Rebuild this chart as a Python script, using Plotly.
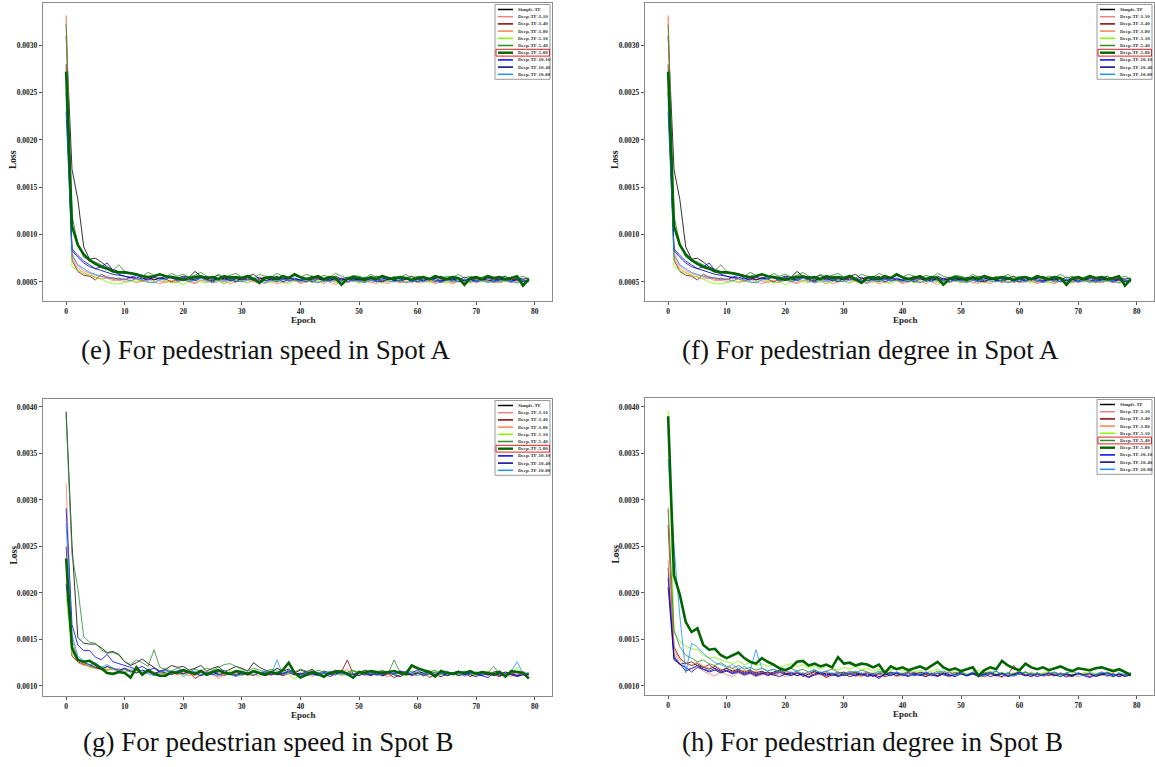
import plotly.graph_objects as go

W, H = 1155, 767
EPOCHS = list(range(80))
MODEL_NAMES = ["Simple-TF", "Deep-TF-3-10", "Deep-TF-3-40", "Deep-TF-3-80", "Deep-TF-5-10",
               "Deep-TF-5-40", "Deep-TF-5-80", "Deep-TF-10-10", "Deep-TF-10-40", "Deep-TF-10-80"]
MODEL_COLORS = ["#000000", "#f08080", "#8b0000", "#ff7f50", "#7cfc00",
                "#2e8b2e", "#006400", "#0000ff", "#00008b", "#1e90ff"]
X_TICKS = [0, 10, 20, 30, 40, 50, 60, 70, 80]
Y_TICKS_A = [0.0005, 0.0010, 0.0015, 0.0020, 0.0025, 0.0030]
Y_TICKS_B = [0.0010, 0.0015, 0.0020, 0.0025, 0.0030, 0.0035, 0.0040]
CAPTIONS = ["(e) For pedestrian speed in Spot A", "(f) For pedestrian degree in Spot A",
            "(g) For pedestrian speed in Spot B", "(h) For pedestrian degree in Spot B"]
UNIT = 1e-4  # all loss values below are listed in units of 1e-4

# ---- Spot A (panels e and f show the same curves) ----
a_simple = [31.0, 16.9, 13.7, 8.7, 7.4, 7.5, 7.1, 6.6, 6.3, 6.1, 5.9, 6.0, 5.8, 5.7, 5.5, 5.6, 5.8, 5.5, 5.6, 5.4,
            5.6, 5.5, 6.1, 5.6, 5.4, 5.5, 5.7, 5.3, 5.6, 5.5, 5.4, 5.6, 5.8, 5.3, 5.5, 5.4, 5.6, 5.2, 5.5, 5.7,
            5.4, 5.3, 5.6, 5.5, 5.2, 5.4, 5.6, 5.3, 5.5, 5.4, 5.2, 5.5, 5.3, 5.6, 5.4, 5.2, 5.5, 5.3, 5.4, 5.6,
            5.3, 5.5, 5.2, 5.4, 5.6, 5.3, 5.4, 5.2, 5.5, 5.3, 5.4, 5.2, 5.5, 5.3, 5.4, 5.6, 5.2, 5.4, 5.3, 5.4]
a_3_10 = [33.0, 7.6, 6.4, 6.0, 5.7, 5.5, 5.3, 5.4, 5.1, 5.2, 5.0, 5.2, 4.9, 5.1, 5.3, 5.0, 4.8, 5.1, 5.0, 4.9,
          5.2, 5.0, 4.8, 5.1, 5.3, 4.9, 5.0, 5.2, 4.8, 5.0, 5.1, 4.9, 5.2, 5.0, 4.8, 5.1, 5.3, 4.9, 5.0, 5.2,
          4.8, 5.0, 5.1, 4.9, 5.2, 5.0, 4.7, 5.1, 5.0, 5.2, 4.9, 5.1, 5.0, 4.8, 5.2, 5.0, 5.1, 4.9, 5.0, 5.2,
          4.9, 5.0, 5.1, 4.8, 5.0, 5.2, 4.9, 5.1, 5.0, 4.9, 5.1, 5.0, 5.2, 4.9, 5.0, 5.1, 4.9, 5.0, 5.1, 5.0]
a_3_40 = [28.0, 7.3, 6.1, 5.7, 5.6, 5.2, 5.8, 5.5, 5.3, 5.4, 5.2, 5.5, 5.3, 5.1, 5.4, 5.2, 5.5, 5.3, 5.0, 5.3,
          5.4, 5.1, 5.3, 5.5, 5.2, 5.0, 5.3, 5.4, 5.1, 5.3, 5.2, 5.4, 5.1, 5.3, 5.5, 5.2, 5.0, 5.3, 5.4, 5.2,
          5.1, 5.3, 5.2, 5.4, 5.0, 5.3, 5.2, 5.1, 5.4, 5.2, 5.3, 5.0, 5.2, 5.4, 5.1, 5.3, 5.2, 5.0, 5.3, 5.2,
          5.4, 5.1, 5.3, 5.0, 5.2, 5.3, 5.1, 5.4, 5.2, 5.1, 5.3, 5.2, 5.0, 5.3, 5.2, 5.1, 5.3, 5.2, 5.1, 5.2]
a_3_80 = [33.2, 8.1, 6.7, 6.2, 5.9, 5.7, 5.5, 5.6, 5.3, 5.2, 5.4, 5.1, 5.3, 5.0, 5.2, 5.4, 5.1, 4.9, 5.2, 5.0,
          5.3, 5.1, 4.9, 5.2, 5.0, 5.3, 5.1, 4.8, 5.2, 5.0, 5.1, 5.3, 5.0, 4.9, 5.2, 5.1, 4.8, 5.0, 5.2, 5.1,
          4.9, 5.2, 5.0, 5.1, 4.8, 5.2, 5.0, 5.3, 4.9, 5.1, 5.0, 5.2, 4.9, 5.1, 5.0, 4.8, 5.2, 5.0, 5.1, 4.9,
          5.2, 5.0, 5.1, 4.9, 5.2, 5.0, 4.8, 5.1, 5.0, 5.2, 4.9, 5.1, 5.0, 5.2, 4.9, 5.1, 5.0, 4.9, 5.1, 5.0]
a_5_10 = [26.0, 6.6, 6.2, 5.9, 5.7, 5.5, 5.3, 5.0, 4.8, 4.8, 4.9, 5.1, 5.0, 5.2, 4.9, 5.0, 5.3, 5.1, 4.9, 5.0,
          4.7, 5.1, 5.2, 5.0, 4.9, 5.2, 5.1, 4.8, 5.0, 5.2, 5.1, 4.9, 5.3, 5.0, 5.1, 4.9, 5.2, 5.0, 4.8, 5.1,
          5.0, 5.2, 4.9, 5.1, 5.0, 5.2, 4.9, 5.0, 5.3, 5.1, 4.9, 5.0, 5.2, 5.1, 4.9, 5.2, 5.0, 5.1, 4.9, 5.2,
          5.0, 5.1, 4.9, 5.2, 5.0, 4.9, 5.1, 5.3, 5.0, 4.9, 5.2, 5.0, 5.1, 4.9, 5.2, 5.0, 5.1, 4.9, 5.0, 5.1]
a_5_40 = [32.2, 12.0, 9.0, 7.6, 7.3, 7.1, 6.8, 6.5, 6.2, 6.8, 6.1, 5.9, 5.8, 5.6, 6.0, 5.7, 5.8, 5.5, 5.9, 5.6,
          5.8, 5.5, 5.7, 6.0, 5.6, 5.4, 5.8, 5.5, 5.7, 5.9, 5.5, 5.7, 5.4, 5.8, 5.6, 5.5, 5.9, 5.6, 5.4, 5.7,
          5.5, 5.8, 5.6, 5.4, 5.7, 5.5, 5.9, 5.6, 5.4, 5.7, 5.6, 5.4, 5.8, 5.5, 5.7, 5.3, 5.6, 5.5, 5.8, 5.4,
          5.6, 5.5, 5.3, 5.7, 5.4, 5.6, 5.5, 5.8, 5.4, 5.6, 5.3, 5.5, 5.7, 5.4, 5.6, 5.3, 5.5, 5.4, 5.6, 5.3]
a_5_80 = [27.2, 10.9, 8.9, 7.9, 7.3, 6.9, 6.6, 6.4, 6.1, 6.0, 6.0, 5.9, 5.8, 5.6, 5.5, 5.6, 5.8, 5.6, 5.5, 5.4,
          5.2, 5.4, 5.5, 5.6, 5.4, 5.5, 5.3, 5.6, 5.4, 5.5, 5.4, 5.6, 5.3, 4.9, 5.4, 5.5, 5.3, 5.6, 5.4, 5.8,
          5.5, 5.3, 5.4, 5.6, 5.3, 5.5, 5.4, 4.7, 5.3, 5.5, 5.4, 5.2, 5.5, 5.3, 5.6, 5.4, 5.3, 5.5, 5.4, 5.2,
          5.4, 5.5, 5.3, 5.6, 5.4, 5.3, 5.5, 5.4, 4.7, 5.4, 5.5, 5.3, 5.6, 5.4, 5.5, 5.3, 5.4, 5.6, 4.6, 5.3]
a_10_10 = [23.0, 8.5, 7.8, 7.2, 6.8, 6.4, 6.6, 7.0, 6.2, 5.8, 5.6, 5.5, 5.7, 5.4, 5.2, 5.5, 5.3, 5.6, 5.4, 5.2,
           5.5, 5.3, 5.1, 5.4, 5.6, 5.2, 5.3, 5.5, 5.1, 5.4, 5.2, 5.5, 5.3, 5.1, 5.4, 5.2, 5.5, 5.0, 5.3, 5.4,
           5.2, 5.0, 5.3, 5.5, 5.1, 5.3, 5.2, 5.4, 5.0, 5.3, 5.1, 5.4, 5.2, 5.0, 5.3, 5.5, 5.1, 5.2, 5.4, 5.0,
           5.3, 5.1, 5.4, 5.2, 5.0, 5.3, 5.2, 5.4, 5.1, 5.3, 5.0, 5.2, 5.4, 5.1, 5.3, 5.2, 5.0, 5.3, 5.2, 5.1]
a_10_40 = [25.0, 8.3, 7.6, 7.0, 6.6, 6.4, 6.2, 6.0, 5.8, 5.7, 5.6, 5.4, 5.5, 5.3, 5.5, 5.2, 5.4, 5.3, 5.5, 5.1,
           5.3, 5.4, 5.2, 5.5, 5.3, 5.1, 5.4, 5.2, 5.3, 5.0, 5.4, 5.2, 5.3, 5.5, 5.1, 5.3, 5.2, 5.4, 5.1, 5.3,
           5.2, 5.4, 5.0, 5.3, 5.2, 5.1, 5.4, 5.2, 5.3, 5.1, 5.3, 5.2, 5.4, 5.1, 5.0, 5.3, 5.2, 5.1, 5.3, 5.2,
           5.0, 5.3, 5.2, 5.4, 5.1, 5.2, 5.3, 5.0, 5.2, 5.3, 5.1, 5.3, 5.2, 5.0, 5.2, 5.3, 5.1, 5.2, 5.0, 5.2]
a_10_80 = [24.0, 7.8, 6.8, 6.4, 6.0, 5.8, 5.6, 5.4, 5.5, 5.2, 5.3, 5.1, 5.4, 5.2, 5.0, 4.9, 5.2, 5.3, 5.6, 5.1,
           5.3, 5.0, 5.2, 5.4, 5.1, 4.9, 5.2, 5.0, 5.3, 5.1, 5.0, 5.2, 5.4, 5.1, 4.9, 5.2, 5.0, 5.3, 5.1, 5.2,
           5.0, 5.3, 5.1, 4.9, 5.2, 5.0, 5.3, 5.1, 5.0, 5.2, 5.1, 4.9, 5.2, 5.0, 5.3, 5.1, 5.0, 5.2, 4.9, 5.1,
           5.2, 5.0, 5.3, 5.1, 4.9, 5.2, 5.0, 5.1, 5.3, 5.0, 5.1, 5.2, 4.9, 5.1, 5.0, 5.2, 5.1, 4.9, 5.2, 5.1]

# ---- Spot B, pedestrian speed (g) ----
g_simple = [39.5, 25.2, 15.2, 14.6, 14.5, 14.5, 14.1, 13.6, 13.7, 13.4, 12.6, 12.2, 12.5, 12.9, 12.4, 12.0, 11.6, 11.8, 12.2, 12.0,
            12.1, 11.7, 11.9, 12.2, 11.6, 11.9, 12.1, 11.5, 11.8, 12.1, 11.9, 11.6, 12.5, 12.0, 11.7, 11.5, 11.9, 11.6, 11.8, 11.4,
            11.7, 11.5, 11.8, 11.3, 11.6, 11.4, 11.7, 11.5, 11.3, 11.6, 11.4, 11.7, 11.5, 11.2, 11.6, 11.4, 11.3, 11.6, 11.5, 11.2,
            11.5, 11.3, 11.6, 11.4, 11.2, 11.5, 11.4, 11.6, 11.3, 11.5, 11.2, 11.4, 11.3, 11.5, 11.6, 11.2, 11.4, 11.5, 11.3, 11.2]
g_3_10 = [31.8, 15.0, 12.8, 12.4, 12.2, 12.0, 11.8, 12.1, 11.7, 11.9, 11.5, 11.8, 11.6, 11.4, 11.7, 11.5, 11.3, 11.6, 11.4, 11.2,
          11.5, 11.3, 11.1, 11.4, 11.6, 11.2, 11.0, 11.3, 11.5, 11.2, 11.4, 11.1, 11.3, 11.0, 11.4, 11.2, 11.5, 11.1, 11.3, 11.6,
          11.2, 11.4, 11.0, 11.3, 11.5, 11.2, 11.4, 11.1, 11.3, 11.2, 11.4, 11.1, 11.3, 11.5, 11.2, 11.0, 11.3, 11.4, 11.1, 11.3,
          11.5, 11.2, 11.4, 11.1, 11.3, 11.6, 11.2, 11.4, 11.0, 11.3, 11.2, 11.4, 11.1, 11.3, 11.5, 11.2, 11.0, 11.3, 11.6, 11.2]
g_3_40 = [25.0, 13.2, 12.6, 12.3, 12.1, 11.9, 12.0, 11.7, 11.9, 11.6, 11.8, 11.5, 11.7, 11.4, 11.6, 11.3, 11.5, 11.2, 11.4, 11.6,
          11.3, 11.5, 10.8, 11.2, 11.4, 11.6, 11.3, 11.1, 11.4, 11.2, 11.5, 11.3, 11.1, 11.4, 11.2, 11.5, 11.3, 11.1, 11.4, 11.2,
          11.3, 11.5, 11.2, 11.4, 11.1, 11.3, 11.2, 11.5, 12.8, 11.3, 11.4, 11.2, 11.3, 11.5, 11.1, 11.3, 10.9, 11.2, 11.4, 11.1,
          11.3, 11.5, 10.9, 11.2, 11.4, 11.1, 11.3, 11.2, 11.4, 11.0, 11.3, 11.1, 11.4, 11.2, 11.0, 11.3, 11.4, 11.1, 11.2, 11.3]
g_3_80 = [22.0, 13.8, 12.5, 12.2, 12.3, 11.9, 11.7, 12.0, 11.8, 11.5, 11.9, 11.6, 11.4, 11.7, 11.5, 11.2, 11.6, 11.3, 11.5, 11.2,
          11.4, 11.1, 11.3, 11.6, 11.2, 11.4, 10.8, 11.2, 11.5, 11.3, 11.1, 11.4, 11.2, 11.5, 11.3, 11.1, 11.4, 11.2, 11.3, 11.5,
          11.2, 11.4, 11.6, 11.3, 11.1, 11.4, 11.2, 11.5, 11.8, 11.3, 11.2, 11.4, 11.1, 11.3, 11.5, 11.2, 11.4, 11.6, 11.2, 11.3,
          11.5, 11.1, 11.3, 11.4, 11.2, 11.6, 11.3, 11.1, 11.4, 11.2, 11.3, 11.5, 11.2, 11.4, 11.1, 11.3, 11.5, 11.2, 11.4, 11.3]
g_5_10 = [19.8, 13.5, 12.8, 12.5, 12.0, 11.9, 12.1, 11.7, 11.9, 11.6, 11.4, 11.7, 11.5, 11.3, 11.6, 11.2, 11.5, 11.3, 11.6, 11.4,
          11.2, 11.5, 11.3, 11.6, 11.1, 11.4, 11.2, 11.5, 11.7, 11.3, 11.1, 11.4, 11.2, 11.5, 11.3, 11.6, 11.2, 11.4, 11.3, 10.7,
          11.3, 11.5, 11.2, 11.4, 11.1, 11.5, 11.3, 11.2, 11.4, 11.6, 11.3, 11.5, 11.2, 11.4, 11.3, 11.5, 11.2, 11.4, 11.1, 11.3,
          11.5, 11.2, 11.4, 11.6, 11.3, 11.1, 11.4, 11.2, 11.5, 11.3, 11.2, 11.4, 11.6, 11.3, 11.5, 11.2, 11.4, 12.0, 11.3, 11.5]
g_5_40 = [39.1, 24.1, 20.5, 15.3, 14.7, 14.6, 13.9, 13.5, 13.6, 13.3, 12.6, 12.3, 12.8, 12.5, 12.1, 13.9, 12.0, 11.8, 11.6, 11.9,
          11.7, 11.5, 11.8, 11.6, 11.9, 11.7, 12.0, 12.3, 12.4, 12.1, 11.8, 11.6, 11.9, 11.7, 11.5, 11.8, 11.6, 11.4, 11.7, 11.5,
          11.8, 11.6, 11.3, 11.7, 11.5, 11.4, 11.6, 11.3, 11.5, 11.7, 11.4, 11.6, 11.3, 11.5, 11.7, 11.4, 12.8, 11.5, 11.3, 11.6,
          11.4, 11.2, 11.5, 11.7, 11.3, 11.5, 11.2, 11.4, 11.6, 11.3, 11.5, 11.2, 11.4, 12.1, 11.3, 11.5, 11.2, 11.6, 11.4, 11.3]
g_5_80 = [23.7, 14.1, 12.8, 12.6, 12.7, 12.3, 11.9, 11.4, 11.3, 11.5, 11.4, 10.9, 12.0, 11.2, 11.7, 11.3, 11.1, 11.1, 11.5, 11.4,
          11.7, 11.5, 11.3, 11.6, 11.2, 11.5, 11.7, 11.4, 11.3, 11.6, 11.5, 11.3, 11.6, 11.4, 11.2, 11.5, 11.3, 11.7, 12.5, 11.4,
          10.9, 11.2, 11.5, 11.3, 11.0, 11.4, 11.5, 11.6, 11.3, 10.9, 11.5, 11.4, 11.6, 11.5, 11.4, 11.5, 11.6, 11.4, 11.3, 12.2,
          11.9, 11.7, 11.5, 11.0, 11.6, 11.4, 11.3, 11.5, 11.4, 11.6, 11.3, 11.5, 11.4, 11.2, 11.5, 11.0, 11.6, 11.5, 11.4, 10.8]
g_10_10 = [29.1, 16.6, 14.4, 13.8, 13.8, 13.1, 12.8, 13.4, 12.6, 12.4, 12.2, 12.0, 11.8, 12.1, 11.7, 11.9, 11.5, 11.7, 11.4, 11.6,
           11.8, 11.5, 11.3, 11.6, 11.4, 11.2, 11.5, 11.7, 11.3, 11.5, 11.2, 11.4, 11.6, 11.3, 11.5, 11.2, 11.4, 11.3, 11.6, 11.4,
           11.2, 11.5, 11.3, 11.1, 11.4, 11.2, 11.5, 11.3, 11.4, 11.2, 11.5, 11.3, 11.1, 11.4, 11.2, 11.5, 11.3, 11.6, 11.2, 11.4,
           11.7, 11.3, 11.5, 11.2, 11.4, 11.1, 11.3, 11.6, 11.2, 11.4, 11.3, 11.1, 10.9, 11.4, 11.2, 11.5, 11.3, 11.1, 11.4, 11.2]
g_10_40 = [21.0, 14.0, 12.9, 12.5, 12.3, 12.0, 11.8, 12.1, 11.9, 11.7, 11.9, 11.6, 11.4, 11.7, 11.5, 11.3, 11.6, 11.4, 11.2, 11.5,
           11.3, 11.6, 11.4, 11.1, 11.3, 11.5, 11.2, 11.4, 11.3, 11.1, 11.4, 11.2, 11.5, 11.3, 11.1, 11.4, 11.2, 11.3, 11.5, 11.2,
           11.4, 11.1, 11.3, 11.2, 11.4, 11.0, 11.3, 11.5, 11.2, 11.3, 11.1, 11.4, 11.2, 11.3, 11.1, 11.4, 11.2, 11.0, 11.3, 11.2,
           11.4, 11.1, 11.3, 11.2, 11.0, 11.3, 11.4, 11.1, 11.3, 11.2, 11.0, 11.3, 11.2, 11.4, 11.1, 11.3, 11.2, 11.0, 11.2, 11.3]
g_10_80 = [27.5, 15.5, 13.2, 12.7, 12.2, 12.5, 12.0, 12.3, 11.9, 11.6, 11.8, 11.5, 11.9, 11.6, 11.3, 11.1, 11.5, 11.7, 11.4, 11.6,
           11.0, 11.4, 11.6, 11.2, 11.5, 11.3, 11.1, 11.4, 11.2, 11.0, 11.3, 11.5, 11.2, 11.4, 11.6, 11.3, 12.8, 11.2, 11.5, 11.3,
           11.1, 11.4, 11.2, 11.5, 11.3, 11.6, 11.2, 11.4, 11.1, 11.3, 11.5, 11.2, 11.4, 11.1, 11.3, 11.5, 11.2, 11.4, 11.6, 11.3,
           11.1, 11.4, 11.2, 11.5, 11.3, 11.6, 11.2, 11.4, 11.1, 11.3, 11.5, 11.2, 11.4, 11.3, 11.5, 11.1, 11.6, 12.6, 11.3, 11.4]

# ---- Spot B, pedestrian degree (h) ----
h_simple = [22.7, 13.0, 12.3, 12.5, 12.2, 12.4, 12.0, 11.8, 12.1, 11.7, 11.9, 11.6, 11.8, 11.5, 11.7, 11.4, 11.6, 11.3, 11.5, 11.7,
            11.4, 11.2, 11.5, 11.0, 11.3, 11.6, 11.2, 11.4, 11.1, 11.3, 11.5, 11.2, 11.4, 11.1, 11.3, 11.0, 11.4, 11.2, 11.5, 11.3,
            11.1, 11.4, 11.2, 11.5, 11.3, 11.1, 11.4, 11.2, 11.0, 11.3, 11.5, 11.2, 11.4, 11.1, 11.3, 11.5, 11.2, 11.0, 11.4, 11.2,
            11.3, 11.5, 11.1, 11.4, 11.2, 11.3, 11.1, 11.4, 11.2, 11.0, 11.3, 11.2, 11.4, 11.1, 11.3, 11.2, 11.0, 11.3, 11.2, 11.4]
h_3_10 = [23.5, 13.6, 12.4, 12.0, 11.8, 12.1, 11.6, 11.3, 11.1, 11.5, 11.2, 11.0, 11.4, 11.1, 11.3, 11.0, 11.2, 11.4, 11.1, 11.3,
          11.0, 11.2, 11.4, 11.1, 10.9, 11.2, 11.3, 11.0, 11.2, 11.4, 11.1, 11.3, 11.0, 11.2, 11.4, 11.1, 10.9, 11.2, 11.3, 11.0,
          11.2, 11.4, 11.1, 11.3, 11.0, 11.2, 11.1, 11.3, 11.0, 11.2, 11.4, 11.1, 11.3, 11.0, 11.2, 11.3, 11.1, 10.9, 11.2, 11.0,
          11.3, 11.1, 11.2, 11.4, 11.0, 11.2, 11.1, 11.3, 10.9, 11.2, 11.0, 11.2, 11.3, 11.1, 11.2, 11.0, 11.3, 11.1, 11.2, 11.1]
h_3_40 = [27.3, 14.2, 13.0, 12.4, 12.6, 12.2, 12.0, 12.3, 11.8, 11.6, 11.9, 11.5, 11.7, 11.4, 11.6, 11.3, 11.5, 11.2, 11.4, 11.6,
          11.3, 11.5, 11.1, 11.4, 11.2, 11.5, 11.3, 10.9, 11.2, 11.4, 11.1, 11.3, 11.5, 11.2, 11.4, 11.1, 11.3, 11.0, 11.2, 11.4,
          11.2, 11.5, 11.1, 11.3, 11.2, 11.4, 11.1, 11.3, 11.5, 11.2, 11.4, 11.1, 11.3, 11.2, 11.0, 11.3, 11.1, 11.4, 11.2, 12.2,
          11.3, 11.1, 11.4, 11.2, 11.3, 11.1, 11.4, 11.2, 11.3, 11.1, 11.4, 11.2, 11.0, 11.3, 11.2, 11.4, 11.1, 11.3, 11.2, 11.4]
h_3_80 = [29.2, 14.0, 12.8, 12.5, 12.2, 12.6, 12.1, 11.9, 12.2, 11.8, 11.6, 11.9, 11.5, 11.7, 11.4, 11.6, 11.3, 11.5, 11.2, 11.4,
          11.6, 11.3, 11.5, 11.2, 11.4, 11.1, 11.3, 11.5, 11.2, 11.4, 11.3, 11.5, 11.2, 11.0, 11.3, 11.4, 11.2, 11.5, 11.3, 11.1,
          11.4, 11.2, 11.5, 11.3, 11.1, 11.4, 11.2, 11.3, 11.5, 11.2, 11.3, 11.1, 11.4, 11.2, 11.5, 11.3, 11.1, 11.4, 11.2, 11.3,
          11.5, 11.2, 11.4, 11.1, 11.3, 11.5, 11.2, 11.4, 11.1, 11.3, 11.2, 11.4, 11.1, 11.3, 11.5, 11.2, 11.4, 11.1, 11.3, 11.2]
h_5_10 = [39.6, 15.8, 14.8, 14.3, 14.0, 13.9, 13.3, 13.0, 13.1, 12.8, 12.6, 12.4, 12.7, 12.3, 12.5, 12.2, 12.4, 12.1, 12.3, 12.0,
          12.2, 12.4, 12.1, 12.3, 11.9, 12.1, 11.8, 12.2, 11.9, 11.7, 12.0, 11.8, 12.1, 11.7, 11.9, 11.6, 11.8, 11.5, 11.7, 11.9,
          11.6, 11.8, 11.5, 11.7, 11.4, 11.6, 11.8, 11.5, 11.7, 11.4, 11.6, 11.3, 11.5, 11.7, 11.4, 11.6, 11.3, 11.5, 11.2, 11.4,
          11.6, 11.3, 11.5, 11.2, 11.4, 11.6, 11.3, 11.0, 11.4, 11.5, 11.2, 11.4, 11.6, 11.3, 11.5, 11.2, 11.7, 11.4, 11.2, 11.3]
h_5_40 = [29.0, 16.0, 14.2, 13.3, 13.0, 12.6, 12.8, 12.4, 12.2, 12.5, 12.1, 11.9, 12.2, 11.8, 12.0, 11.7, 11.9, 11.6, 11.8, 11.5,
          11.7, 11.9, 11.6, 11.8, 11.5, 11.7, 11.4, 11.6, 11.8, 11.5, 11.3, 11.6, 11.4, 11.7, 11.5, 11.3, 11.6, 11.4, 11.2, 11.5,
          11.3, 11.6, 11.4, 11.2, 11.5, 11.3, 11.6, 11.4, 11.2, 11.5, 11.3, 11.1, 11.4, 11.2, 11.5, 11.3, 11.6, 11.2, 11.4, 11.1,
          11.3, 11.5, 11.2, 11.4, 11.1, 11.3, 11.5, 11.2, 11.4, 11.1, 11.3, 11.2, 11.4, 11.1, 11.3, 11.5, 11.2, 11.0, 11.3, 11.2]
h_5_80 = [39.0, 21.9, 19.8, 16.9, 15.8, 16.2, 14.4, 13.9, 14.0, 13.3, 13.0, 13.3, 13.6, 13.0, 12.6, 12.4, 13.0, 12.6, 12.3, 11.9,
          11.7, 12.0, 12.6, 12.7, 12.2, 12.4, 12.1, 12.3, 12.0, 13.1, 12.4, 12.5, 12.2, 12.4, 12.3, 12.0, 12.3, 11.4, 12.1, 11.8,
          12.0, 11.7, 11.9, 12.1, 11.8, 12.2, 12.6, 12.0, 11.7, 11.9, 11.6, 11.8, 12.0, 11.1, 11.7, 12.0, 11.8, 12.7, 12.2, 11.9,
          11.7, 12.4, 12.0, 11.8, 12.0, 11.7, 11.9, 12.1, 11.8, 11.6, 11.9, 11.8, 11.7, 11.9, 12.0, 11.8, 11.6, 11.8, 11.5, 11.2]
h_10_10 = [21.6, 13.2, 12.3, 12.0, 11.5, 12.0, 11.8, 11.6, 11.9, 11.5, 11.7, 11.4, 11.6, 11.3, 11.5, 11.2, 11.4, 11.1, 11.3, 11.5,
           11.2, 11.4, 11.1, 11.3, 10.9, 11.2, 11.4, 11.1, 11.3, 11.0, 11.2, 11.4, 11.1, 11.3, 11.0, 11.2, 10.8, 11.3, 11.1, 11.4,
           11.2, 11.0, 11.3, 11.1, 11.4, 11.2, 11.0, 11.3, 11.1, 11.2, 11.4, 11.1, 11.3, 11.0, 11.2, 11.4, 11.1, 11.3, 11.0, 11.2,
           11.4, 11.1, 11.3, 11.0, 11.2, 11.4, 11.1, 11.3, 11.0, 11.2, 11.3, 11.1, 10.9, 11.2, 11.4, 11.1, 11.3, 11.0, 11.2, 11.1]
h_10_40 = [20.6, 12.8, 12.4, 11.6, 11.9, 12.2, 11.8, 11.5, 11.7, 11.4, 11.6, 11.3, 11.5, 11.2, 11.4, 11.1, 11.3, 11.5, 11.2, 11.0,
           11.3, 11.1, 11.4, 11.2, 11.0, 11.3, 11.5, 11.2, 11.4, 11.1, 11.3, 11.0, 11.2, 11.4, 11.1, 11.3, 11.0, 11.2, 11.4, 11.1,
           11.3, 11.1, 11.4, 11.2, 11.0, 11.3, 11.1, 11.4, 11.2, 11.0, 11.3, 11.1, 11.4, 11.2, 11.3, 11.0, 11.2, 11.4, 11.1, 11.3,
           11.5, 11.2, 11.0, 11.3, 11.1, 11.4, 11.2, 11.0, 11.3, 11.1, 11.4, 11.2, 11.3, 11.0, 11.2, 11.4, 11.1, 11.3, 11.0, 11.2]
h_10_80 = [34.4, 25.0, 17.5, 11.4, 14.6, 14.2, 13.5, 13.0, 12.5, 12.3, 12.0, 12.3, 11.8, 12.1, 11.7, 13.9, 11.9, 11.6, 11.8, 11.5,
           11.7, 11.4, 11.6, 11.3, 11.5, 11.8, 11.4, 11.6, 11.3, 11.5, 11.2, 11.4, 11.6, 11.3, 11.5, 11.2, 11.4, 11.6, 11.3, 11.5,
           11.2, 11.4, 11.1, 11.3, 11.5, 11.2, 11.4, 11.6, 11.3, 11.1, 11.4, 11.2, 11.5, 11.3, 11.1, 11.4, 11.6, 11.2, 11.4, 11.1,
           11.3, 11.5, 11.2, 11.4, 11.1, 11.3, 11.5, 11.2, 11.4, 11.6, 11.3, 11.1, 11.4, 11.2, 11.5, 11.3, 11.1, 11.4, 11.2, 11.3]

SPOT_A = [a_simple, a_3_10, a_3_40, a_3_80, a_5_10, a_5_40, a_5_80, a_10_10, a_10_40, a_10_80]
SPOT_B_SPEED = [g_simple, g_3_10, g_3_40, g_3_80, g_5_10, g_5_40, g_5_80, g_10_10, g_10_40, g_10_80]
SPOT_B_DEGREE = [h_simple, h_3_10, h_3_40, h_3_80, h_5_10, h_5_40, h_5_80, h_10_10, h_10_40, h_10_80]
THICK = 6  # Deep-TF-5-80 drawn bold

SERIF = "Liberation Serif"

# panel layout (pixel boxes: left, top, right, bottom)
panels = [
    dict(data=SPOT_A, box=(43, 3, 552, 301), yr=(0.000298, 0.003447), yt=Y_TICKS_A,
         cap=(265, 350), hl=6),
    dict(data=SPOT_A, box=(645, 3, 1154, 301), yr=(0.000298, 0.003447), yt=Y_TICKS_A,
         cap=(870, 350), hl=6),
    dict(data=SPOT_B_SPEED, box=(43, 399, 552, 696), yr=(0.000892, 0.004085), yt=Y_TICKS_B,
         cap=(268, 742), hl=6),
    dict(data=SPOT_B_DEGREE, box=(645, 398, 1154, 695), yr=(0.000903, 0.004096), yt=Y_TICKS_B,
         cap=(872, 742), hl=5),
]


def px(x):
    return x / W


def py(y):
    return 1 - y / H


fig = go.Figure()
shapes, annotations = [], []
layout_axes = {}

for p_i, p in enumerate(panels):
    k = "" if p_i == 0 else str(p_i + 1)
    xa, ya = "x" + k, "y" + k
    l, t, r, b = p["box"]
    order = [i for i in range(10) if i != THICK] + [THICK]
    for i in order:
        fig.add_trace(go.Scatter(
            x=EPOCHS, y=[v * UNIT for v in p["data"][i]], mode="lines",
            name=MODEL_NAMES[i], showlegend=False, xaxis=xa, yaxis=ya,
            line=dict(color=MODEL_COLORS[i], width=2.6 if i == THICK else 1.0),
            opacity=1.0 if i == THICK else 0.8,
        ))
    axis_common = dict(showline=True, mirror=True, linecolor="#8a8a8a", linewidth=1.4,
                       ticks="outside", ticklen=3, tickwidth=1, tickcolor="#555",
                       showgrid=False, zeroline=False,
                       tickfont=dict(family=SERIF, size=7.5, color="#222", weight="bold"))
    layout_axes["xaxis" + k] = dict(axis_common, domain=[px(l), px(r)], range=[-3.95, 82.95],
                                    tickvals=X_TICKS, anchor=ya)
    layout_axes["yaxis" + k] = dict(axis_common, domain=[py(b), py(t)], range=list(p["yr"]),
                                    tickvals=p["yt"], tickformat=".4f", anchor=xa)
    # axis titles
    annotations.append(dict(text="<b>Epoch</b>", x=px(l + 0.5 * (r - l) + 6), y=py(b + 18.5),
                            xref="paper", yref="paper", showarrow=False, xanchor="center",
                            yanchor="middle", font=dict(family=SERIF, size=9, color="#222")))
    annotations.append(dict(text="<b>Loss</b>", x=px(l - 30), y=py((t + b) / 2 + 8), xref="paper",
                            yref="paper", showarrow=False, textangle=-90, xanchor="center",
                            yanchor="middle", font=dict(family=SERIF, size=9.5, color="#222")))
    # caption
    cx, cy = p["cap"]
    annotations.append(dict(text=CAPTIONS[p_i], x=px(cx), y=py(cy), xref="paper", yref="paper",
                            showarrow=False, xanchor="center", yanchor="middle",
                            font=dict(family=SERIF, size=27, color="#111")))
    # manual compact legend (upper right, matplotlib style)
    lx0, lx1 = r - 57, r - 2
    ly0 = t + 1.5
    step = 7.2
    ly1 = ly0 + 5 + step * 9 + 5
    shapes.append(dict(type="rect", xref="paper", yref="paper", x0=px(lx0), x1=px(lx1),
                       y0=py(ly1), y1=py(ly0), line=dict(color="#9a9a9a", width=1),
                       fillcolor="rgba(255,255,255,0.85)", layer="above"))
    for i in range(10):
        ey = ly0 + 5 + step * i
        shapes.append(dict(type="line", xref="paper", yref="paper", x0=px(lx0 + 3), x1=px(lx0 + 18),
                           y0=py(ey), y1=py(ey), layer="above",
                           line=dict(color=MODEL_COLORS[i], width=2.4 if i == THICK else 1.5)))
        annotations.append(dict(text=MODEL_NAMES[i], x=px(lx0 + 21), y=py(ey), xref="paper",
                                yref="paper", showarrow=False, xanchor="left", yanchor="middle",
                                font=dict(family=SERIF, size=5, color="#333", weight="bold")))
    hy = ly0 + 5 + step * p["hl"]
    shapes.append(dict(type="rect", xref="paper", yref="paper", x0=px(lx0 + 1), x1=px(lx1 - 0.5),
                       y0=py(hy + 3.4), y1=py(hy - 3.4), line=dict(color="#e02020", width=1),
                       layer="above"))

fig.update_layout(width=W, height=H, margin=dict(l=0, r=0, t=0, b=0),
                  paper_bgcolor="white", plot_bgcolor="white", showlegend=False,
                  shapes=shapes, annotations=annotations, **layout_axes)

fig.write_html("out.html")
